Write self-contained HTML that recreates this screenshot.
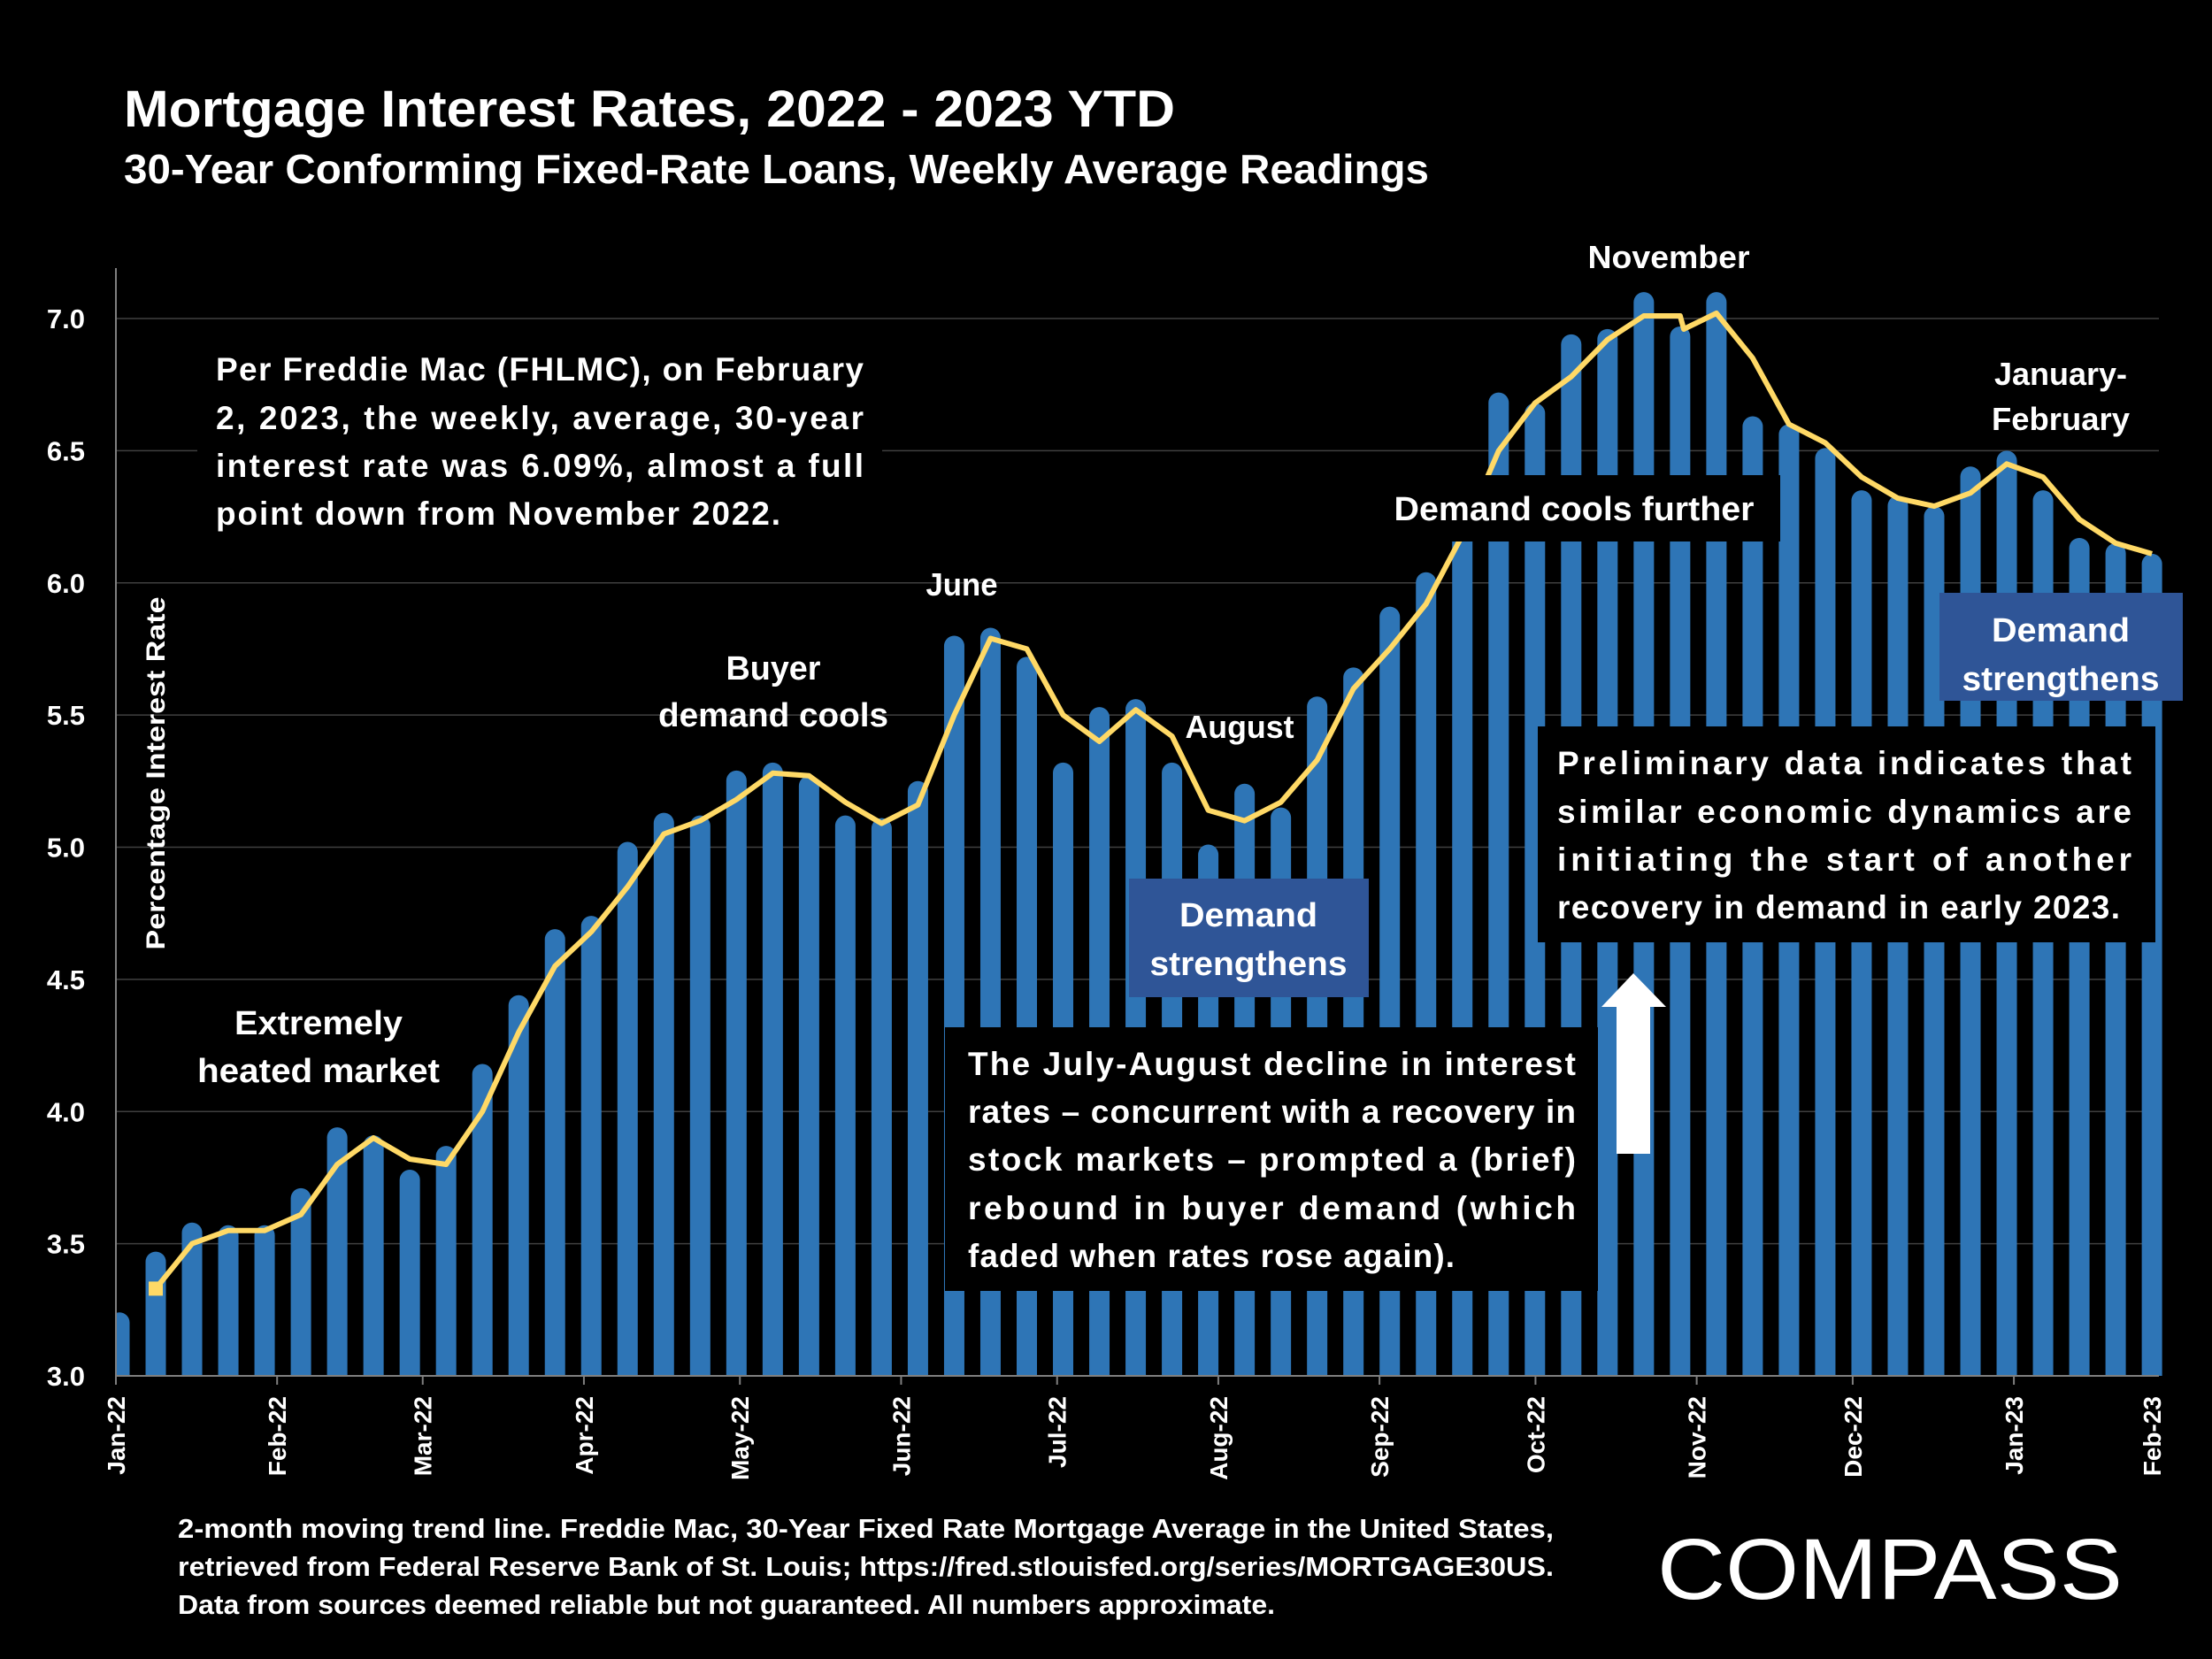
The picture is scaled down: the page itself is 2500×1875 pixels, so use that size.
<!DOCTYPE html>
<html><head><meta charset="utf-8"><style>
html,body{margin:0;padding:0;background:#000;}
svg{display:block;}
text{font-family:"Liberation Sans",sans-serif;fill:#fff;font-weight:bold;}
</style></head><body>
<svg id="chart" width="2500" height="1875" viewBox="0 0 2500 1875" xmlns="http://www.w3.org/2000/svg">
<rect width="2500" height="1875" fill="#000"/>
<text x="140" y="143" font-size="58" textLength="1188" lengthAdjust="spacingAndGlyphs">Mortgage Interest Rates, 2022 - 2023 YTD</text>
<text x="140" y="207" font-size="46" textLength="1475" lengthAdjust="spacingAndGlyphs">30-Year Conforming Fixed-Rate Loans, Weekly Average Readings</text>
<g id="grid"></g>
<g id="bars"></g>
<g id="trend"></g>
<g id="axes"></g>
<text transform="translate(186,874) rotate(-90)" text-anchor="middle" font-size="30" textLength="399" lengthAdjust="spacingAndGlyphs">Percentage Interest  Rate</text>

<g>
<rect x="223" y="383" width="774" height="231" fill="#000"/>
<text x="244" y="430" font-size="37" textLength="732" lengthAdjust="spacing">Per Freddie Mac (FHLMC), on February</text>
<text x="244" y="485" font-size="37" textLength="732" lengthAdjust="spacing">2, 2023, the weekly, average, 30-year</text>
<text x="244" y="539" font-size="37" textLength="732" lengthAdjust="spacing">interest rate was 6.09%, almost a full</text>
<text x="244" y="593" font-size="37" textLength="638" lengthAdjust="spacing">point down from November 2022.</text>
</g>
<g text-anchor="middle" font-size="38">
<text x="360" y="1169" textLength="190" lengthAdjust="spacingAndGlyphs">Extremely</text>
<text x="360" y="1223" textLength="274" lengthAdjust="spacingAndGlyphs">heated market</text>
</g>
<g text-anchor="middle" font-size="38">
<text x="874" y="768" textLength="107" lengthAdjust="spacingAndGlyphs">Buyer</text>
<text x="874" y="821" textLength="260" lengthAdjust="spacingAndGlyphs">demand cools</text>
</g>
<text x="1087" y="673" text-anchor="middle" font-size="36" textLength="81" lengthAdjust="spacingAndGlyphs">June</text>
<text x="1401" y="834" text-anchor="middle" font-size="36" textLength="123" lengthAdjust="spacingAndGlyphs">August</text>
<text x="1886" y="303" text-anchor="middle" font-size="36" textLength="183" lengthAdjust="spacingAndGlyphs">November</text>
<g text-anchor="middle" font-size="36">
<text x="2329" y="435" textLength="150" lengthAdjust="spacingAndGlyphs">January-</text>
<text x="2329" y="486" textLength="156" lengthAdjust="spacingAndGlyphs">February</text>
</g>
<g>
<rect x="1559" y="537" width="453" height="75" fill="#000"/>
<text x="1779" y="588" text-anchor="middle" font-size="38" textLength="407" lengthAdjust="spacingAndGlyphs">Demand cools further</text>
</g>
<g text-anchor="middle" font-size="38">
<rect x="1276" y="993" width="271" height="134" fill="#2f5597"/>
<text x="1411" y="1047" textLength="156" lengthAdjust="spacingAndGlyphs">Demand</text>
<text x="1411" y="1102" textLength="223" lengthAdjust="spacingAndGlyphs">strengthens</text>
</g>
<g text-anchor="middle" font-size="38">
<rect x="2192" y="670" width="275" height="122" fill="#2f5597"/>
<text x="2329" y="725" textLength="156" lengthAdjust="spacingAndGlyphs">Demand</text>
<text x="2329" y="780" textLength="223" lengthAdjust="spacingAndGlyphs">strengthens</text>
</g>
<g font-size="37">
<rect x="1068" y="1161" width="738" height="298" fill="#000"/>
<text x="1094" y="1215" textLength="687" lengthAdjust="spacing">The July-August decline in interest</text>
<text x="1094" y="1269" textLength="687" lengthAdjust="spacing">rates – concurrent with a recovery in</text>
<text x="1094" y="1323" textLength="687" lengthAdjust="spacing">stock markets – prompted a (brief)</text>
<text x="1094" y="1378" textLength="687" lengthAdjust="spacing">rebound in buyer demand (which</text>
<text x="1094" y="1432" textLength="550" lengthAdjust="spacing">faded when rates rose again).</text>
</g>
<g font-size="37">
<rect x="1738" y="821" width="698" height="244" fill="#000"/>
<text x="1760" y="875" textLength="649" lengthAdjust="spacing">Preliminary data indicates that</text>
<text x="1760" y="930" textLength="649" lengthAdjust="spacing">similar economic dynamics  are</text>
<text x="1760" y="984" textLength="649" lengthAdjust="spacing">initiating the start of another</text>
<text x="1760" y="1038" textLength="636" lengthAdjust="spacing">recovery in demand in early 2023.</text>
</g>
<polygon points="1846,1100 1883,1138 1865,1138 1865,1304 1827,1304 1827,1138 1810,1138" fill="#fff"/>
<g font-size="31">
<text x="201" y="1738" textLength="1555" lengthAdjust="spacingAndGlyphs">2-month moving trend line. Freddie Mac, 30-Year Fixed Rate Mortgage Average in the United States,</text>
<text x="201" y="1781" textLength="1555" lengthAdjust="spacingAndGlyphs">retrieved from Federal Reserve Bank of St. Louis; https://fred.stlouisfed.org/series/MORTGAGE30US.</text>
<text x="201" y="1824" textLength="1240" lengthAdjust="spacingAndGlyphs">Data from sources deemed reliable but not guaranteed. All numbers approximate.</text>
</g>
<text x="1873" y="1807" font-size="97" style="font-weight:normal" textLength="526" lengthAdjust="spacingAndGlyphs">COMPASS</text>
</svg>
<script>
const barValues=[3.22,3.45,3.56,3.55,3.55,3.69,3.92,3.89,3.76,3.85,4.16,4.42,4.67,4.72,5.00,5.11,5.10,5.27,5.30,5.25,5.10,5.09,5.23,5.78,5.81,5.70,5.30,5.51,5.54,5.30,4.99,5.22,5.13,5.55,5.66,5.89,6.02,6.29,6.70,6.66,6.92,6.94,7.08,6.95,7.08,6.61,6.58,6.49,6.33,6.31,6.27,6.42,6.48,6.33,6.15,6.13,6.09];
const trendIdx=[1,2,3,4,5,6,7,8,9,10,11,12,13,14,15,16,17,18,19,20,21,22,23,24,25,26,27,28,29,30,31,32,33,34,35,36,37,38,39,40,41,42,43,43.1,44,45,46,47,48,49,50,51,52,53,54,55,56];
const trendValues=[3.33,3.50,3.55,3.55,3.61,3.80,3.90,3.82,3.80,4.00,4.30,4.55,4.68,4.85,5.05,5.10,5.18,5.28,5.27,5.17,5.09,5.16,5.50,5.79,5.75,5.50,5.40,5.52,5.42,5.14,5.10,5.17,5.33,5.60,5.75,5.92,6.18,6.50,6.68,6.78,6.92,7.01,7.01,6.96,7.02,6.85,6.60,6.53,6.40,6.32,6.29,6.34,6.45,6.40,6.24,6.15,6.11];
const yTicks=[3.0,3.5,4.0,4.5,5.0,5.5,6.0,6.5,7.0];
const monthLabels=["Jan-22","Feb-22","Mar-22","Apr-22","May-22","Jun-22","Jul-22","Aug-22","Sep-22","Oct-22","Nov-22","Dec-22","Jan-23"];
const monthDays=[0,31,59,90,120,151,181,212,243,273,304,334,365];
const lastLabel="Feb-23";
const NS="http://www.w3.org/2000/svg";
const yS=v=>1555-(v-3)*298.75;
const xB=i=>135+i*41.02;
const xD=d=>131+d*5.877;
function mk(tag,attrs,parent){const e=document.createElementNS(NS,tag);for(const k in attrs)e.setAttribute(k,attrs[k]);parent.appendChild(e);return e;}
const grid=document.getElementById('grid'),bars=document.getElementById('bars'),trend=document.getElementById('trend'),axes=document.getElementById('axes');
yTicks.forEach(v=>{
 if(v>3){const l=mk('line',{x1:131,x2:2440,y1:yS(v),y2:yS(v),stroke:'#404040','stroke-width':1.5},grid);
 
 }
 const t=mk('text',{x:96,y:yS(v)+11,'text-anchor':'end','font-size':31},axes);t.textContent=v.toFixed(1);
 
 
});
barValues.forEach((v,i)=>{
 const r0=11.5,x=xB(i)-r0,w=2*r0,top=yS(v)-6;
 const d='M'+x+',1555 V'+(top+r0)+' A'+r0+','+r0+' 0 0 1 '+(x+w)+','+(top+r0)+' V1555 Z';
 const p=mk('path',{d:d,fill:'#2e75b6'},bars);
 
 
});
const cover=mk('rect',{x:100,y:300,width:31,height:1260,fill:'#000'},bars);


const pts=trendIdx.map((ix,k)=>xB(ix).toFixed(1)+','+yS(trendValues[k]).toFixed(1)).join(' ');
const pl=mk('polyline',{points:pts,fill:'none',stroke:'#ffd966','stroke-width':6,'stroke-linejoin':'round'},trend);


const m=mk('rect',{x:xB(trendIdx[0])-8,y:yS(trendValues[0])-8,width:16,height:16,fill:'#ffd966'},trend);


const ya=mk('line',{x1:131,x2:131,y1:303,y2:1555,stroke:'#7f7f7f','stroke-width':2},axes);


const xa=mk('line',{x1:131,x2:2440,y1:1555,y2:1555,stroke:'#7f7f7f','stroke-width':2},axes);


monthLabels.forEach((lab,i)=>{
 const x=xD(monthDays[i]);
 const tk=mk('line',{x1:x,x2:x,y1:1555,y2:1565,stroke:'#7f7f7f','stroke-width':2},axes);
 
 
 const t=mk('text',{transform:'translate('+(x+10)+',1578) rotate(-90)','text-anchor':'end','font-size':28},axes);t.textContent=lab;
 
 
});
const lt=mk('text',{transform:'translate('+(xB(barValues.length-1)+10)+',1578) rotate(-90)','text-anchor':'end','font-size':28},axes);lt.textContent=lastLabel;


</script>
</body></html>
